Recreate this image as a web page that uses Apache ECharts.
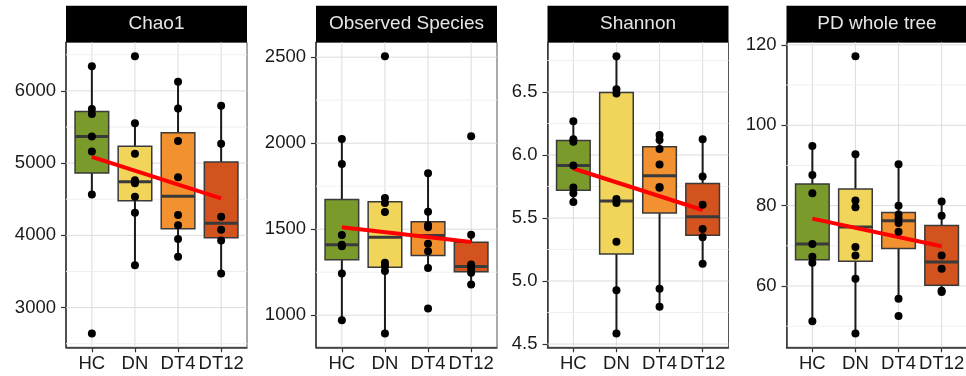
<!DOCTYPE html>
<html>
<head>
<meta charset="utf-8">
<script src="https://cdn.jsdelivr.net/npm/echarts@6/dist/echarts.min.js"></script>
<style>
  html, body { margin: 0; padding: 0; background: #ffffff; }
  #chart { width: 966px; height: 376px; }
</style>
</head>
<body>
<div id="chart"></div>
<script>
// Groups along the x axis of every panel
const categories = ['HC', 'DN', 'DT4', 'DT12'];
const groupColors = ['#7a9a2b', '#f1d55a', '#f2912f', '#d2531d'];
const panelTitles = ['Chao1', 'Observed Species', 'Shannon', 'PD whole tree'];

// Per-sample alpha diversity values, one array per group (HC, DN, DT4, DT12)
const chao1 = [
  [6343, 5748, 5679, 5368, 5162, 4566, 2642],
  [6481, 5551, 5130, 4763, 4720, 4534, 4314, 3586],
  [6128, 5757, 5307, 4804, 4282, 4140, 3948, 3705],
  [5794, 5267, 4259, 4076, 3929, 3471]
];
const observedSpecies = [
  [2024, 1879, 1467, 1410, 1401, 1243, 971],
  [2506, 1681, 1652, 1600, 1305, 1286, 1257, 894],
  [1825, 1601, 1525, 1512, 1415, 1372, 1274, 1039],
  [2041, 1468, 1295, 1270, 1247, 1179]
];
const shannon = [
  [6.268, 6.124, 6.105, 5.916, 5.742, 5.697, 5.626],
  [6.784, 6.521, 6.487, 5.650, 5.618, 5.311, 4.926, 4.584],
  [6.158, 6.118, 6.047, 5.924, 5.745, 5.739, 4.939, 4.795],
  [6.124, 5.829, 5.605, 5.413, 5.347, 5.137]
];
const pdWholeTree = [
  [94.82, 87.64, 83.10, 70.47, 67.25, 65.77, 51.24],
  [117.2, 92.76, 81.30, 79.60, 69.73, 67.58, 61.80, 48.19],
  [90.29, 79.96, 77.77, 76.80, 75.70, 73.47, 56.85, 52.56],
  [81.04, 77.50, 67.60, 64.30, 58.80, 58.50]
];

// Y tick labels (major) and minor grid positions per panel
const chao1Ticks = [3000, 4000, 5000, 6000];
const chao1Minor = [2500, 3500, 4500, 5500, 6500];
const observedTicks = [1000, 1500, 2000, 2500];
const observedMinor = [1250, 1750, 2250];
const shannonTicks = [4.5, 5.0, 5.5, 6.0, 6.5];
const shannonMinor = [4.75, 5.25, 5.75, 6.25, 6.75];
const pdTicks = [60, 80, 100, 120];
const pdMinor = [50, 70, 90, 110];

const panelData = [chao1, observedSpecies, shannon, pdWholeTree];
const panelTicks = [chao1Ticks, observedTicks, shannonTicks, pdTicks];
const panelMinor = [chao1Minor, observedMinor, shannonMinor, pdMinor];
const tickDecimals = [0, 0, 1, 0];

// ---- layout ----
const PANEL_LEFT = [66, 316, 547.5, 786.5];
const PANEL_WIDTH = 181;
const PANEL_TOP = 42.3;
const PANEL_HEIGHT = 305;
const STRIP_TOP = 5.7;
const BOX_WIDTH = 0.78;
const FONT = '"Liberation Sans", Arial, sans-serif';
const AXIS_FONT_SIZE = 18.5;

// ---- statistics ----
function quantile(sorted, p) {
  const h = (sorted.length - 1) * p;
  const lo = Math.floor(h), hi = Math.ceil(h);
  return sorted[lo] + (h - lo) * (sorted[hi] - sorted[lo]);
}
function boxStats(values) {
  const s = values.slice().sort((a, b) => a - b);
  const q1 = quantile(s, 0.25), med = quantile(s, 0.5), q3 = quantile(s, 0.75);
  const iqr = q3 - q1;
  const lo = Math.min(...s.filter(v => v >= q1 - 1.5 * iqr));
  const hi = Math.max(...s.filter(v => v <= q3 + 1.5 * iqr));
  return [lo, q1, med, q3, hi];
}
// Least-squares line of value on group index (1..4)
function linearFit(groups) {
  const xs = [], ys = [];
  groups.forEach((g, i) => g.forEach(v => { xs.push(i + 1); ys.push(v); }));
  const n = xs.length;
  const mx = xs.reduce((a, b) => a + b, 0) / n;
  const my = ys.reduce((a, b) => a + b, 0) / n;
  let sxy = 0, sxx = 0;
  for (let k = 0; k < n; k++) { sxy += (xs[k] - mx) * (ys[k] - my); sxx += (xs[k] - mx) ** 2; }
  const slope = sxy / sxx;
  return x => my + slope * (x - mx);
}
function paddedRange(groups) {
  const all = groups.flat();
  const mn = Math.min(...all), mx = Math.max(...all);
  const pad = (mx - mn) * 0.05;
  return [mn - pad, mx + pad];
}

const grids = [], xAxes = [], yAxes = [], series = [], graphics = [];

panelData.forEach((groups, i) => {
  const [ymin, ymax] = paddedRange(groups);
  const ticks = panelTicks[i];
  const dec = tickDecimals[i];

  grids.push({
    left: PANEL_LEFT[i], top: PANEL_TOP, width: PANEL_WIDTH, height: PANEL_HEIGHT,
    show: true, borderColor: '#555', borderWidth: 1, backgroundColor: '#ffffff',
    containLabel: false, outerBoundsMode: 'none'
  });

  xAxes.push({
    type: 'value', gridIndex: i, min: 0.4, max: 4.6,
    splitLine: { show: false },
    axisLine: { show: true, onZero: false, lineStyle: { color: '#333', width: 1.5 } },
    axisTick: { show: true, customValues: [1, 2, 3, 4], length: 5, lineStyle: { color: '#333', width: 1.2 } },
    axisLabel: {
      customValues: [1, 2, 3, 4],
      formatter: v => categories[Math.round(v) - 1] || '',
      color: '#1a1a1a', fontSize: AXIS_FONT_SIZE, fontFamily: FONT, margin: 7
    }
  });

  yAxes.push({
    type: 'value', gridIndex: i, min: ymin, max: ymax,
    splitLine: { show: false },
    axisLine: { show: true, onZero: false, lineStyle: { color: '#333', width: 1.5 } },
    axisTick: { show: true, customValues: ticks, length: 5, lineStyle: { color: '#333', width: 1.2 } },
    axisLabel: {
      customValues: ticks,
      formatter: v => Number(v).toFixed(dec),
      color: '#1a1a1a', fontSize: AXIS_FONT_SIZE, fontFamily: FONT, margin: 10
    }
  });

  // grid lines: [kind, value]  kind 0 = vertical major, 1 = horizontal major, 2 = horizontal minor
  const gridData = [];
  categories.forEach((c, k) => gridData.push([0, k + 1]));
  ticks.forEach(t => gridData.push([1, t]));
  panelMinor[i].forEach(t => gridData.push([2, t]));
  series.push({
    type: 'custom', xAxisIndex: i, yAxisIndex: i, z: 1, silent: true,
    encode: { x: -1, y: -1 },
    data: gridData,
    renderItem(params, api) {
      const cs = params.coordSys;
      const kind = api.value(0), v = api.value(1);
      if (kind === 0) {
        const px = api.coord([v, ymin])[0];
        return { type: 'line', shape: { x1: px, y1: cs.y, x2: px, y2: cs.y + cs.height },
                 style: { stroke: '#dcdcdc', lineWidth: 1 } };
      }
      const py = api.coord([1, v])[1];
      return { type: 'line', shape: { x1: cs.x, y1: py, x2: cs.x + cs.width, y2: py },
               style: { stroke: kind === 1 ? '#dcdcdc' : '#efefef', lineWidth: 1 } };
    }
  });

  // box plots
  const boxData = groups.map((g, k) => [k + 1, ...boxStats(g)]);
  series.push({
    type: 'custom', xAxisIndex: i, yAxisIndex: i, z: 2, silent: true,
    encode: { x: 0, y: [1, 2, 3, 4, 5] },
    data: boxData,
    renderItem(params, api) {
      const x = api.value(0);
      const lo = api.coord([x, api.value(1)]);
      const q1 = api.coord([x, api.value(2)]);
      const med = api.coord([x, api.value(3)]);
      const q3 = api.coord([x, api.value(4)]);
      const hi = api.coord([x, api.value(5)]);
      const half = api.size([BOX_WIDTH, 0])[0] / 2;
      const cx = lo[0];
      const whisker = { stroke: '#1a1a1a', lineWidth: 2 };
      return {
        type: 'group',
        children: [
          { type: 'line', shape: { x1: cx, y1: hi[1], x2: cx, y2: q3[1] }, style: whisker },
          { type: 'line', shape: { x1: cx, y1: q1[1], x2: cx, y2: lo[1] }, style: whisker },
          { type: 'rect', shape: { x: cx - half, y: q3[1], width: 2 * half, height: q1[1] - q3[1] },
            style: { fill: groupColors[params.dataIndex], stroke: '#3a3a3a', lineWidth: 1.5 } },
          { type: 'line', shape: { x1: cx - half, y1: med[1], x2: cx + half, y2: med[1] },
            style: { stroke: '#3a3a3a', lineWidth: 3 } }
        ]
      };
    }
  });

  // linear trend across groups
  const fit = linearFit(groups);
  series.push({
    type: 'line', xAxisIndex: i, yAxisIndex: i, z: 3, silent: true,
    showSymbol: false, symbol: 'none',
    data: [[1, fit(1)], [4, fit(4)]],
    lineStyle: { color: '#ff0000', width: 4 }
  });

  // individual samples
  const pts = [];
  groups.forEach((g, k) => g.forEach(v => pts.push([k + 1, v])));
  series.push({
    type: 'scatter', xAxisIndex: i, yAxisIndex: i, z: 4, silent: true,
    symbolSize: 8, itemStyle: { color: '#000000', opacity: 1 },
    data: pts
  });

  // facet strip
  graphics.push({
    type: 'rect', silent: true,
    shape: { x: PANEL_LEFT[i], y: STRIP_TOP, width: PANEL_WIDTH, height: PANEL_TOP - STRIP_TOP },
    style: { fill: '#000000' }
  });
  graphics.push({
    type: 'text', silent: true,
    x: PANEL_LEFT[i] + PANEL_WIDTH / 2, y: (STRIP_TOP + PANEL_TOP) / 2,
    style: {
      text: panelTitles[i], fill: '#e6e6e6', font: '19px ' + FONT,
      align: 'center', verticalAlign: 'middle', textAlign: 'center', textVerticalAlign: 'middle'
    }
  });
});

const chart = echarts.init(document.getElementById('chart'), null, { renderer: 'canvas' });
chart.setOption({
  animation: false,
  backgroundColor: '#ffffff',
  grid: grids,
  xAxis: xAxes,
  yAxis: yAxes,
  series: series,
  graphic: graphics
});
</script>
</body>
</html>
